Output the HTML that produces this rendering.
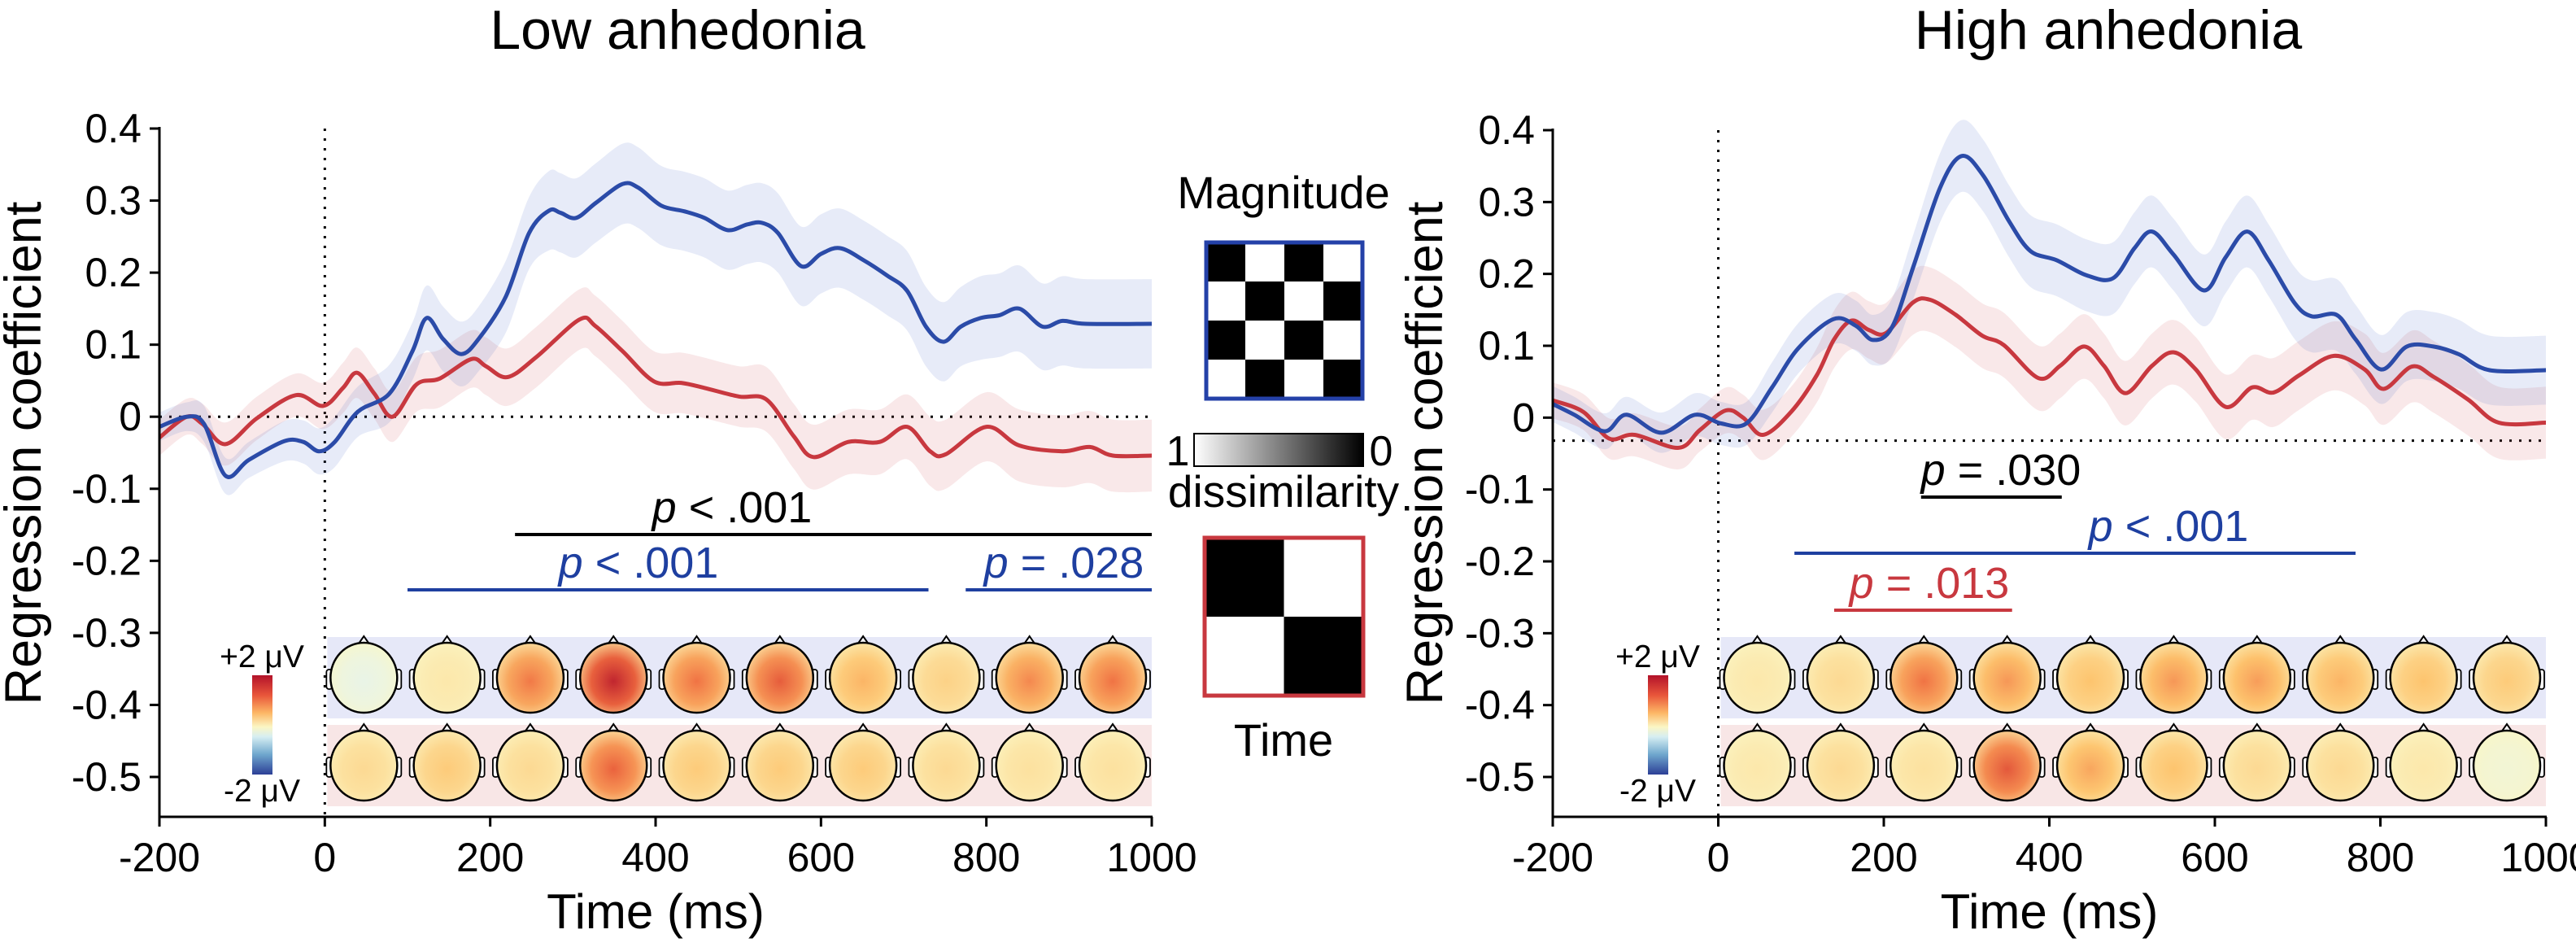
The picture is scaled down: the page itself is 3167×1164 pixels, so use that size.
<!DOCTYPE html>
<html><head><meta charset="utf-8"><style>
html,body{margin:0;padding:0;background:#fff;}
svg{display:block;font-family:"Liberation Sans",Arial,sans-serif;}
</style></head><body>
<svg id="fig" width="3167" height="1164" viewBox="0 0 3167 1164" xmlns="http://www.w3.org/2000/svg">
<defs id="defs">
<linearGradient id="cbar" x1="0" y1="0" x2="0" y2="1">
<stop offset="0" stop-color="#b3122a"/><stop offset="0.2" stop-color="#e8553a"/><stop offset="0.38" stop-color="#fdb766"/><stop offset="0.52" stop-color="#fbf6c4"/><stop offset="0.62" stop-color="#d6eef2"/><stop offset="0.8" stop-color="#6ea6cd"/><stop offset="1" stop-color="#2c3f96"/>
</linearGradient>
<linearGradient id="gbar" x1="0" y1="0" x2="1" y2="0"><stop offset="0" stop-color="#fff"/><stop offset="1" stop-color="#000"/></linearGradient>
</defs>
<g id="legend">
<text x="1578" y="256" font-size="56" text-anchor="middle">Magnitude</text>
<g id="magbox"></g>
<text x="1448" y="572" font-size="52" text-anchor="middle">1</text>
<rect x="1468" y="533" width="208" height="40" fill="url(#gbar)" stroke="#000" stroke-width="2"/>
<text x="1698" y="572" font-size="52" text-anchor="middle">0</text>
<text x="1578" y="623" font-size="55" text-anchor="middle">dissimilarity</text>
<g id="timebox"></g>
<text x="1578" y="929" font-size="56" text-anchor="middle">Time</text>
</g>
</svg>
<script>
// ---------- data ----------
const xTicks = [-200, 0, 200, 400, 600, 800, 1000];
const yTicks = [0.4, 0.3, 0.2, 0.1, 0, -0.1, -0.2, -0.3, -0.4, -0.5];
const yTickLabels = ["0.4","0.3","0.2","0.1","0","-0.1","-0.2","-0.3","-0.4","-0.5"];

const lowBlueT = [-200,-167,-146,-120,-92,-49,-26,-7,12,40,78,106,123,143,165,186,219,247,271,285,304,328,360,379,407,435,459,487,511,529,548,576,600,623,652,680,704,727,748,769,793,816,840,868,892,920,1000];
const lowBlueV = [-0.014,0,-0.01,-0.082,-0.06,-0.034,-0.035,-0.048,-0.035,0.007,0.032,0.091,0.137,0.108,0.087,0.108,0.167,0.255,0.286,0.283,0.276,0.297,0.323,0.318,0.293,0.285,0.276,0.259,0.267,0.269,0.255,0.209,0.226,0.234,0.217,0.196,0.175,0.125,0.104,0.125,0.137,0.141,0.150,0.125,0.133,0.129,0.129];
const lowBlueSE = [0.02,0.02,0.025,0.025,0.025,0.028,0.03,0.032,0.035,0.035,0.04,0.04,0.045,0.045,0.045,0.045,0.05,0.05,0.055,0.055,0.055,0.055,0.056,0.056,0.055,0.055,0.055,0.055,0.055,0.055,0.055,0.055,0.055,0.055,0.055,0.055,0.055,0.055,0.055,0.055,0.058,0.058,0.06,0.06,0.062,0.062,0.062];

const lowRedT = [-200,-167,-148,-120,-82,-35,-2,22,39,60,82,111,139,177,195,221,256,308,327,360,398,431,459,501,534,567,591,633,671,704,732,751,800,840,892,925,953,1000];
const lowRedV = [-0.029,0,-0.01,-0.038,-0.002,0.03,0.015,0.04,0.061,0.032,0.0,0.045,0.053,0.08,0.07,0.055,0.083,0.135,0.126,0.091,0.049,0.047,0.04,0.028,0.024,-0.027,-0.056,-0.035,-0.035,-0.014,-0.048,-0.052,-0.014,-0.04,-0.048,-0.042,-0.054,-0.054];
const lowRedSE = [0.025,0.025,0.028,0.03,0.03,0.03,0.032,0.035,0.035,0.035,0.035,0.038,0.04,0.04,0.04,0.04,0.042,0.042,0.042,0.042,0.042,0.042,0.042,0.042,0.045,0.045,0.045,0.045,0.045,0.045,0.048,0.048,0.048,0.05,0.05,0.05,0.05,0.05];

const highBlueT = [-200,-174,-137,-111,-69,-28,3,34,65,97,139,166,187,210,236,268,294,320,351,377,409,445,477,503,524,550,587,613,639,665,696,717,747,770,801,832,864,895,932,1000];
const highBlueV = [0.019,0.004,-0.019,0.004,-0.021,0.004,-0.008,-0.008,0.042,0.097,0.137,0.128,0.108,0.126,0.211,0.32,0.364,0.337,0.274,0.232,0.219,0.198,0.194,0.236,0.259,0.227,0.177,0.223,0.259,0.219,0.16,0.141,0.143,0.109,0.067,0.099,0.099,0.088,0.066,0.066];
const highBlueSE = [0.025,0.025,0.025,0.025,0.028,0.03,0.03,0.03,0.035,0.035,0.035,0.035,0.035,0.04,0.045,0.048,0.05,0.05,0.05,0.05,0.05,0.05,0.05,0.05,0.05,0.05,0.05,0.05,0.05,0.05,0.05,0.05,0.05,0.048,0.048,0.048,0.048,0.048,0.048,0.048];

const highRedT = [-200,-163,-132,-101,-48,-22,9,30,54,88,119,140,161,182,203,235,256,287,319,345,387,413,442,466,492,524,550,577,613,645,671,702,744,781,804,838,864,906,943,1000];
const highRedV = [0.024,0.008,-0.029,-0.024,-0.042,-0.017,0.01,0.0,-0.024,0.008,0.059,0.109,0.135,0.122,0.118,0.16,0.164,0.143,0.114,0.101,0.055,0.072,0.099,0.072,0.034,0.072,0.091,0.067,0.015,0.042,0.035,0.059,0.086,0.067,0.04,0.071,0.057,0.025,-0.007,-0.007];
const highRedSE = [0.025,0.025,0.028,0.03,0.03,0.03,0.032,0.032,0.035,0.035,0.038,0.04,0.04,0.04,0.042,0.045,0.045,0.045,0.045,0.045,0.045,0.045,0.045,0.045,0.045,0.045,0.045,0.045,0.045,0.045,0.048,0.048,0.048,0.05,0.05,0.05,0.05,0.05,0.05,0.05];

// topomap mean amplitudes (-1..1 of ±2 µV)
const lowTopoBlue = [-0.1,0.1,0.6,0.92,0.62,0.7,0.4,0.25,0.55,0.62];
const lowTopoRed  = [0.2,0.3,0.2,0.68,0.3,0.3,0.3,0.2,0.15,0.15];
const highTopoBlue = [0.1,0.2,0.62,0.5,0.35,0.5,0.48,0.4,0.35,0.3];
const highTopoRed  = [0.1,0.2,0.15,0.72,0.45,0.35,0.2,0.2,0.1,-0.05];

// significance bars: [startMs, endMs]
const lowSigAll = [230, 1000];
const lowSigBlue1 = [100, 730];
const lowSigBlue2 = [775, 1000];
const highSigAll = [245, 415];
const highSigBlue = [92, 770];
const highSigRed = [140, 355];

// ---------- helpers ----------
const NS = "http://www.w3.org/2000/svg";
const svg = document.getElementById('fig');
const defs = document.getElementById('defs');
function mk(tag, attrs, parent){ const e=document.createElementNS(NS,tag); for(const k in attrs) e.setAttribute(k,attrs[k]); (parent||svg).appendChild(e); return e; }

function smoothPath(pts, move){
  let d = (move?'M':'L') + pts[0][0].toFixed(1)+','+pts[0][1].toFixed(1);
  for(let i=0;i<pts.length-1;i++){
    const p0=pts[Math.max(0,i-1)], p1=pts[i], p2=pts[i+1], p3=pts[Math.min(pts.length-1,i+2)];
    const c1=[p1[0]+(p2[0]-p0[0])/6, p1[1]+(p2[1]-p0[1])/6];
    const c2=[p2[0]-(p3[0]-p1[0])/6, p2[1]-(p3[1]-p1[1])/6];
    d+='C'+c1[0].toFixed(1)+','+c1[1].toFixed(1)+' '+c2[0].toFixed(1)+','+c2[1].toFixed(1)+' '+p2[0].toFixed(1)+','+p2[1].toFixed(1);
  }
  return d;
}
const cstops=[[-1,[44,63,150]],[-0.5,[116,173,209]],[-0.15,[224,243,248]],[0,[251,246,196]],[0.35,[253,196,110]],[0.65,[239,106,63]],[1,[179,18,42]]];
function cmap(v){
  v=Math.max(-1,Math.min(1,v));
  for(let i=0;i<cstops.length-1;i++){const a=cstops[i],b=cstops[i+1]; if(v<=b[0]){const t=(v-a[0])/(b[0]-a[0]); const c=a[1].map((x,j)=>Math.round(x+(b[1][j]-x)*t)); return 'rgb('+c.join(',')+')';}}
  return 'rgb(179,18,42)';
}
let gid=0;

function panel(P){
  const g = mk('g',{}); 
  
  
  const sx = t => P.xA + (t+200)/1200*(P.xB-P.xA);
  const sy = v => P.yT + (0.4-v)/0.9*(P.yB-P.yT);
  const axisY = 1004;
  // title
  const ti = mk('text',{x:P.titleX,y:60,'font-size':68,'text-anchor':'middle'},g); ti.textContent=P.title;
  
  
  // topomap bands
  const bands=[[P.topoBlue,'#e6e8f8',833],[P.topoRed,'#f8e6e6',941]];
  bands.forEach((b,bi)=>{
    const r = mk('rect',{x:sx(0)+3,y:b[2]-50,width:P.xB-sx(0)-3,height:100,fill:b[1]},g);
    
    
    b[0].forEach((val,i)=>{
      const cx = sx(0) + 48 + i*(P.xB-sx(0)-96)/9, cy=b[2];
      const hg = mk('g',{},g);
      
      
      const id='tg'+(gid++);
      const rg = mk('radialGradient',{id:id,cx:'0.5',cy:'0.55',r:'0.6'},defs);
      mk('stop',{offset:'0','stop-color':cmap(val)},rg);
      mk('stop',{offset:'0.55','stop-color':cmap(val*0.75)},rg);
      mk('stop',{offset:'1','stop-color':cmap(val*0.2)},rg);
      mk('path',{d:`M${cx-7},${cy-41} L${cx},${cy-51} L${cx+7},${cy-41}`,fill:'#fff',stroke:'#000','stroke-width':2},hg);
      mk('rect',{x:cx-46,y:cy-10,width:7,height:24,rx:3,fill:'#fff',stroke:'#000','stroke-width':1.8},hg);
      mk('rect',{x:cx+39,y:cy-10,width:7,height:24,rx:3,fill:'#fff',stroke:'#000','stroke-width':1.8},hg);
      mk('ellipse',{cx:cx,cy:cy,rx:41,ry:43,fill:'url(#'+id+')',stroke:'#000','stroke-width':2.5},hg);
    });
  });
  // µV colorbar
  const cb = mk('rect',{x:P.cbX,y:830,width:25,height:122,fill:'url(#cbar)'},g);
  
  
  const t1=mk('text',{x:P.cbX+12,y:820,'font-size':39,'text-anchor':'middle'},g); t1.textContent='+2 μV';
  
  
  const t2=mk('text',{x:P.cbX+12,y:985,'font-size':39,'text-anchor':'middle'},g); t2.textContent='-2 μV';
  
  
  // dotted reference lines
  const vl = mk('line',{x1:sx(0),x2:sx(0),y1:P.yT,y2:axisY,stroke:'#000','stroke-width':3,'stroke-dasharray':'3 9'},g);
  
  
  const hl = mk('line',{x1:P.xA,x2:P.xB,y1:sy(P.zeroLine),y2:sy(P.zeroLine),stroke:'#000','stroke-width':3,'stroke-dasharray':'3 9'},g);
  
  
  // series
  P.series.forEach(s=>{
    const up=s.t.map((t,i)=>[sx(t),sy(s.v[i]+(s.se[i]??s.se[s.se.length-1]))]);
    const lo=s.t.map((t,i)=>[sx(t),sy(s.v[i]-(s.se[i]??s.se[s.se.length-1]))]).reverse();
    const band = mk('path',{d:smoothPath(up,true)+smoothPath(lo,false)+'Z',fill:s.band,stroke:'none'},g);
    
    
  });
  P.series.forEach(s=>{
    const pts=s.t.map((t,i)=>[sx(t),sy(s.v[i])]);
    const ln = mk('path',{d:smoothPath(pts,true),fill:'none',stroke:s.color,'stroke-width':5,'stroke-linejoin':'round'},g);
    
    
  });
  // significance
  P.sig.forEach(s=>{
    const l = mk('line',{x1:sx(s.r[0]),x2:sx(s.r[1]),y1:s.y,y2:s.y,stroke:s.c,'stroke-width':4},g);
    
    
    const tx = mk('text',{x:s.tx,y:s.y-15,'font-size':54,'text-anchor':'middle',fill:s.c},g);
    tx.innerHTML='<tspan font-style="italic">p</tspan> '+s.label;
    
    
  });
  // axes
  const ax = mk('g',{},g);
  
  
  mk('line',{x1:P.xA,x2:P.xA,y1:P.yT-2,y2:axisY,stroke:'#000','stroke-width':3},ax);
  mk('line',{x1:P.xA,x2:P.xB+1,y1:axisY,y2:axisY,stroke:'#000','stroke-width':3},ax);
  yTicks.forEach((v,i)=>{
    mk('line',{x1:P.xA-12,x2:P.xA,y1:sy(v),y2:sy(v),stroke:'#000','stroke-width':3},ax);
    const t=mk('text',{x:P.xA-22,y:sy(v)+17,'font-size':50,'text-anchor':'end'},ax); t.textContent=yTickLabels[i];
    
    
  });
  xTicks.forEach(v=>{
    mk('line',{x1:sx(v),x2:sx(v),y1:axisY,y2:axisY+12,stroke:'#000','stroke-width':3},ax);
    const t=mk('text',{x:sx(v),y:1071,'font-size':50,'text-anchor':'middle'},ax); t.textContent=String(v);
    
    
  });
  const xl=mk('text',{x:(P.xA+P.xB)/2,y:1141,'font-size':60,'text-anchor':'middle'},ax); xl.textContent='Time (ms)';
  
  
  const yl=mk('text',{x:0,y:0,'font-size':63,'text-anchor':'middle',transform:`translate(${P.ylX},557) rotate(-90)`},ax); yl.textContent='Regression coefficient';
  
  
}

const BLUE='#2b4ba8', RED='#c8383f';
panel({name:'low-anhedonia-panel',title:'Low anhedonia',titleX:833,xA:196,xB:1416,yT:158,yB:955,zeroLine:0,cbX:310,ylX:50,
  topoBlue:lowTopoBlue,topoRed:lowTopoRed,
  series:[{name:'low-time',t:lowRedT,v:lowRedV,se:lowRedSE,color:RED,band:'rgba(214,90,96,0.14)'},
          {name:'low-magnitude',t:lowBlueT,v:lowBlueV,se:lowBlueSE,color:BLUE,band:'rgba(70,100,200,0.13)'}],
  sig:[{name:'low-combined-sig',r:lowSigAll,y:657,c:'#000',tx:900,label:'&lt; .001'},
       {name:'low-magnitude-sig-1',r:lowSigBlue1,y:725,c:'#1e3fa0',tx:785,label:'&lt; .001'},
       {name:'low-magnitude-sig-2',r:lowSigBlue2,y:725,c:'#1e3fa0',tx:1308,label:'= .028'}]});
panel({name:'high-anhedonia-panel',title:'High anhedonia',titleX:2592,xA:1909,xB:3130,yT:160,yB:955,zeroLine:-0.032,cbX:2026,ylX:1773,
  topoBlue:highTopoBlue,topoRed:highTopoRed,
  series:[{name:'high-time',t:highRedT,v:highRedV,se:highRedSE,color:RED,band:'rgba(214,90,96,0.14)'},
          {name:'high-magnitude',t:highBlueT,v:highBlueV,se:highBlueSE,color:BLUE,band:'rgba(70,100,200,0.13)'}],
  sig:[{name:'high-combined-sig',r:highSigAll,y:611,c:'#000',tx:2460,label:'= .030'},
       {name:'high-magnitude-sig',r:highSigBlue,y:680,c:'#1e3fa0',tx:2666,label:'&lt; .001'},
       {name:'high-time-sig',r:highSigRed,y:750,c:'#c8383f',tx:2372,label:'= .013'}]});

// model matrices
const magPattern=[[1,0,1,0],[0,1,0,1],[1,0,1,0],[0,1,0,1]];
const timePattern=[[1,0],[0,1]];
function matrix(gId,pat,x,y,w,h,col){
  const g=document.getElementById(gId); const n=pat.length; const cw=(w)/n, ch=h/n;
  pat.forEach((row,r)=>row.forEach((c,k)=>{ mk('rect',{x:x+k*cw,y:y+r*ch,width:cw+0.5,height:ch+0.5,fill:c?'#000':'#fff'},g); }));
  mk('rect',{x:x,y:y,width:w,height:h,fill:'none',stroke:col,'stroke-width':5},g);
}
matrix('magbox',magPattern,1483,298,192,192,'#2441a8');
matrix('timebox',timePattern,1481,661,195,194,'#c8383f');
</script>
</body></html>
